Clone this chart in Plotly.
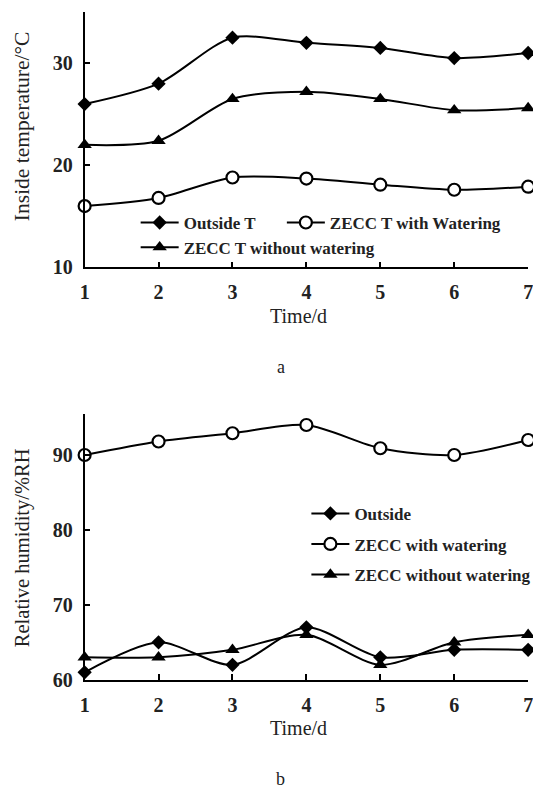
import plotly.graph_objects as go

days = [1, 2, 3, 4, 5, 6, 7]

# Panel a: temperature (°C)
outside_t = [26.0, 28.0, 32.5, 32.0, 31.5, 30.5, 31.0]
zecc_t_with = [16.0, 16.8, 18.8, 18.7, 18.1, 17.6, 17.9]
zecc_t_without = [22.0, 22.4, 26.5, 27.2, 26.5, 25.4, 25.6]

# Panel b: relative humidity (%RH)
outside_rh = [61, 65, 62, 67, 63, 64, 64]
zecc_rh_with = [90, 91.8, 92.9, 94, 90.9, 90, 92]
zecc_rh_without = [63, 63, 64, 66, 62, 65, 66]

x_ticks = [1, 2, 3, 4, 5, 6, 7]
y_ticks_a = [10, 20, 30]
y_ticks_b = [60, 70, 80, 90]

SERIF = "Liberation Serif, Times New Roman, serif"
VIEW_W, VIEW_H = 541, 796
OFF = 8  # default page body margin
W, H = VIEW_W - OFF, VIEW_H - OFF

fig = go.Figure()


def add(x, y, name, symbol, xa, ya, legend, msize, hollow=False):
    fig.add_trace(go.Scatter(
        x=x, y=y, name=name, xaxis=xa, yaxis=ya, legend=legend,
        mode="lines+markers",
        line=dict(color="black", width=2, shape="spline", smoothing=0.8),
        marker=dict(symbol=symbol, size=msize, color="white" if hollow else "black",
                    line=dict(color="black", width=2.2 if hollow else 0)),
        cliponaxis=False,
    ))


add(days, outside_t, "Outside T", "diamond", "x", "y", "legend", 11)
add(days, zecc_t_with, "ZECC T with Watering", "circle", "x", "y", "legend2", 12, hollow=True)
add(days, zecc_t_without, "ZECC T without watering", "triangle-up", "x", "y", "legend3", 12.5)

add(days, outside_rh, "Outside", "diamond", "x2", "y2", "legend4", 11)
add(days, zecc_rh_with, "ZECC with watering", "circle", "x2", "y2", "legend5", 12, hollow=True)
add(days, zecc_rh_without, "ZECC without watering", "triangle-up", "x2", "y2", "legend6", 12.5)


def px_x(p):
    return (p - OFF) / W


def px_y(p):
    return 1 - (p - OFF) / H


x_dom = [px_x(81), px_x(533)]

axis_common = dict(
    showgrid=False, zeroline=False, showline=True, linecolor="black", linewidth=1.6,
    ticks="inside", ticklen=6, tickwidth=1.5, tickcolor="black",
    tickfont=dict(family=SERIF, size=20, color="#222", weight="bold"),
)

# panel a: 10 at y=271, 35 at y=12
ya_bottom, ya_top = 271, 12.25
# panel b: 60 at y=689, 95.5 at y=419.5
yb_bottom, yb_top = 689.3, 419.5

fig.update_layout(
    width=W, height=H,
    margin=dict(l=0, r=0, t=0, b=0),
    paper_bgcolor="white", plot_bgcolor="white",
    font=dict(family=SERIF, color="#222"),
    showlegend=True,
    xaxis=dict(domain=x_dom, range=[1, 7], tickvals=x_ticks, anchor="y",
               ticklabelstandoff=6, **axis_common),
    yaxis=dict(domain=[px_y(ya_bottom), px_y(ya_top)], range=[10, 35], tickvals=y_ticks_a,
               anchor="x", ticklabelstandoff=6, **axis_common),
    xaxis2=dict(domain=x_dom, range=[1, 7], tickvals=x_ticks, anchor="y2",
                ticklabelstandoff=6, **axis_common),
    yaxis2=dict(domain=[px_y(yb_bottom), px_y(yb_top)], range=[60, 95.5], tickvals=y_ticks_b,
                anchor="x2", ticklabelstandoff=6, **axis_common),
)

leg_common = dict(bgcolor="rgba(0,0,0,0)", borderwidth=0, xanchor="left", yanchor="middle",
                  font=dict(family=SERIF, size=17, color="#222", weight="bold"),
                  itemwidth=38, visible=True)

fig.update_layout(
    legend=dict(x=px_x(133), y=px_y(226), **leg_common),
    legend2=dict(x=px_x(282), y=px_y(226), **leg_common),
    legend3=dict(x=px_x(133), y=px_y(251), **leg_common),
    legend4=dict(x=px_x(307), y=px_y(521), **leg_common),
    legend5=dict(x=px_x(307), y=px_y(552), **leg_common),
    legend6=dict(x=px_x(307), y=px_y(583), **leg_common),
)


def text(x, y, s, size=20, angle=0, bold=False):
    fig.add_annotation(x=px_x(x), y=px_y(y), xref="paper", yref="paper", text=s,
                       showarrow=False, textangle=angle, xanchor="center", yanchor="middle",
                       font=dict(family=SERIF, size=size, color="#222",
                                 weight="bold" if bold else "normal"))


text(18, 128, "Inside temperature/°C", size=21.5, angle=-90)
text(299, 320, "Time/d")
text(281, 372, "a", size=18)
text(18, 555, "Relative humidity/%RH", size=20.5, angle=-90)
text(299, 738, "Time/d")
text(281, 790, "b", size=18)

fig.write_html("out.html")
